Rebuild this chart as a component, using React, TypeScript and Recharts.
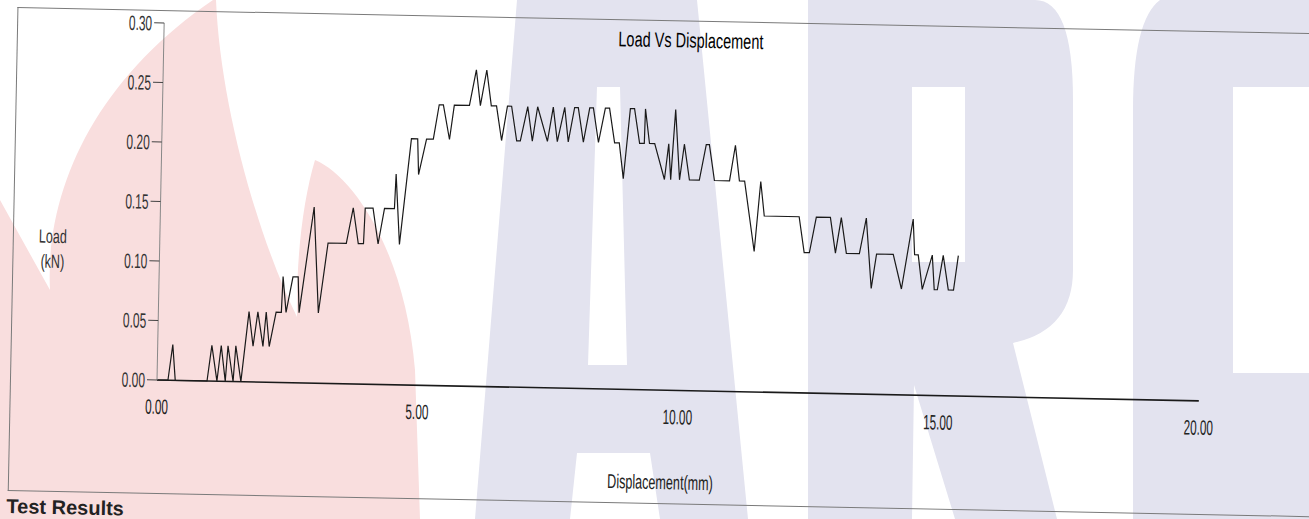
import { LineChart, Line, XAxis, YAxis } from 'recharts'

// displacement (mm) and load (kN)
const disp = [
  0.0, 0.21, 0.29, 0.35, 0.96, 1.04, 1.15, 1.22, 1.31, 1.35, 1.46, 1.5, 1.61,
  1.74, 1.83, 1.91, 2.02, 2.07, 2.14, 2.26, 2.36, 2.38, 2.45, 2.57, 2.67, 2.7,
  2.95, 3.07, 3.23, 3.58, 3.7, 3.81, 3.91, 3.93, 4.08, 4.19, 4.3, 4.49, 4.51,
  4.6, 4.79, 4.91, 4.94, 5.08, 5.21, 5.31, 5.39, 5.52, 5.6, 5.89, 6.01, 6.1,
  6.21, 6.31, 6.41, 6.52, 6.62, 6.7, 6.81, 6.88, 7.01, 7.11, 7.2, 7.4, 7.5,
  7.59, 7.72, 7.8, 7.91, 7.98, 8.09, 8.2, 8.27, 8.38, 8.5, 8.58, 8.69, 8.78,
  8.87, 8.98, 9.06, 9.17, 9.26, 9.27, 9.36, 9.46, 9.66, 9.73, 9.78, 9.85, 9.95,
  10.03, 10.14, 10.33, 10.45, 10.51, 10.62, 10.91, 11.01, 11.1, 11.2, 11.41,
  11.51, 11.59, 12.26, 12.37, 12.47, 12.59, 12.86, 12.97, 13.07, 13.18, 13.43,
  13.55, 13.67, 13.76, 14.08, 14.25, 14.45, 14.49, 14.56, 14.65, 14.83, 14.88,
  14.94, 15.04, 15.15, 15.25, 15.33,
]

const load = [
  0, 0, 0.03, 0, 0, 0.03, 0, 0.03, 0, 0.03, 0, 0.03, 0,
  0.059, 0.03, 0.059, 0.03, 0.059, 0.03, 0.059, 0.059, 0.089, 0.059, 0.089, 0.089, 0.059,
  0.148, 0.059, 0.118, 0.118, 0.148, 0.118, 0.118, 0.148, 0.148, 0.118, 0.148, 0.148, 0.177,
  0.118, 0.207, 0.207, 0.177, 0.207, 0.207, 0.236, 0.236, 0.207, 0.236, 0.236, 0.266, 0.236,
  0.266, 0.236, 0.236, 0.207, 0.236, 0.236, 0.207, 0.207, 0.236, 0.207, 0.236, 0.207, 0.236,
  0.207, 0.236, 0.207, 0.236, 0.236, 0.207, 0.236, 0.236, 0.207, 0.236, 0.236, 0.207, 0.207,
  0.177, 0.236, 0.236, 0.207, 0.207, 0.236, 0.207, 0.207, 0.177, 0.207, 0.177, 0.236, 0.177,
  0.207, 0.177, 0.177, 0.207, 0.207, 0.177, 0.177, 0.207, 0.177, 0.177, 0.118,
  0.177, 0.148, 0.148, 0.118, 0.118, 0.148, 0.148, 0.118, 0.148, 0.118, 0.118,
  0.148, 0.089, 0.118, 0.118, 0.089, 0.148, 0.118, 0.118, 0.089, 0.118, 0.089,
  0.089, 0.118, 0.089, 0.089, 0.118,
]

const xTicks = [0, 5, 10, 15, 20]
const yTicks = [0, 0.05, 0.1, 0.15, 0.2, 0.25, 0.3]

const points = disp.map((d, i) => ({ disp: d, load: load[i] }))

const sans = "'Liberation Sans', Arial, sans-serif"

// printout uses a tall narrow face, so squeeze the regular one
const squeeze = (k: number) =>
  ({
    fontFamily: sans,
    transform: `scaleX(${k})`,
    transformOrigin: 'center',
  }) as const

function XTick({ x, y, payload }: any) {
  return (
    <g transform={`translate(${x},${y})`}>
      <text transform="scale(0.56,1)" textAnchor="middle" dy="0.71em" fontSize={21} fontFamily={sans} fill="#222">
        {Number(payload.value).toFixed(2)}
      </text>
    </g>
  )
}

function YTick({ x, y, payload }: any) {
  return (
    <g transform={`translate(${x},${y})`}>
      <text transform="scale(0.57,1)" textAnchor="end" dy="0.36em" fontSize={21} fontFamily={sans} fill="#333">
        {Number(payload.value).toFixed(2)}
      </text>
    </g>
  )
}

// the "ARC" watermark printed over the scan
function Watermark() {
  return (
    <svg width={1309} height={519} style={{ position: 'absolute', left: 0, top: 0 }}>
      <path
        d="M0,519 L0,200 L50,290 C45,190 95,80 213,0 L216,0 C220,100 255,230 297,317 C296,260 303,200 315,160 C352,175 405,250 415,370 L420,519 Z"
        fill="#f9dede"
      />
      <path
        fillRule="evenodd"
        fill="#e3e3ef"
        d="M517,0 L697,0 L748,519 L660,519 L650,453 L577,453 L570,519 L475,519 Z M597,87 L620,87 L627,365 L588,365 Z"
      />
      <path
        fillRule="evenodd"
        fill="#e3e3ef"
        d="M808,0 L1035,0 Q1073,0 1073,100 L1073,270 Q1073,330 1013,343 L1057,519 L955,519 L914,385 L912,519 L808,519 Z M912,87 L965,87 L965,262 L912,262 Z"
      />
      <path
        fillRule="evenodd"
        fill="#e3e3ef"
        d="M1160,0 L1309,0 L1309,519 L1133,519 L1133,110 Q1133,20 1160,0 Z M1233,87 L1309,87 L1309,373 L1233,373 Z"
      />
    </svg>
  )
}

export default function App() {
  return (
    <div
      style={{
        position: 'fixed',
        left: 0,
        top: 0,
        width: 1309,
        height: 519,
        background: '#fff',
        overflow: 'hidden',
      }}
    >
      <Watermark />

      {/* the printout sits slightly skewed on the scanner */}
      <div
        style={{
          position: 'absolute',
          left: 0,
          top: 0,
          width: 1309,
          height: 519,
          transform: 'rotate(1.15deg)',
          transformOrigin: '157px 380px',
        }}
      >
        <div
          style={{
            position: 'absolute',
            left: 10,
            top: 10,
            width: 1340,
            height: 482,
            border: '1px solid #7a7a7a',
            borderRight: 'none',
          }}
        />

        <div
          style={{
            ...squeeze(0.69),
            position: 'absolute',
            left: 534,
            top: 18,
            width: 300,
            textAlign: 'center',
            fontSize: 21,
            lineHeight: '24px',
            color: '#000',
          }}
        >
          Load Vs Displacement
        </div>

        <div
          style={{
            ...squeeze(0.66),
            position: 'absolute',
            left: 20,
            top: 226,
            width: 60,
            textAlign: 'center',
            fontSize: 19,
            lineHeight: '25px',
            color: '#333',
          }}
        >
          Load
          <br />
          (kN)
        </div>

        <div
          style={{
            ...squeeze(0.63),
            position: 'absolute',
            left: 542,
            top: 460,
            width: 240,
            textAlign: 'center',
            fontSize: 20,
            lineHeight: '24px',
            color: '#222',
          }}
        >
          Displacement(mm)
        </div>

        <div
          style={{
            position: 'absolute',
            left: 9,
            top: 499,
            fontFamily: sans,
            fontWeight: 'bold',
            fontSize: 20,
            lineHeight: '20px',
            color: '#222',
          }}
        >
          Test Results
        </div>

        <div style={{ position: 'absolute', left: 0, top: 0 }}>
          <LineChart
            width={1309}
            height={519}
            data={points}
            margin={{ top: 23, right: 110, bottom: 109, left: 97 }}
          >
            <XAxis
              type="number"
              dataKey="disp"
              domain={[0, 20]}
              ticks={xTicks}
              height={30}
              tickLine={false}
              tickMargin={13}
              axisLine={{ stroke: '#1a1a1a', strokeWidth: 1.6 }}
              tick={<XTick />}
            />
            <YAxis
              type="number"
              dataKey="load"
              domain={[0, 0.3]}
              ticks={yTicks}
              width={60}
              tickSize={10}
              tickMargin={2}
              axisLine={{ stroke: '#888' }}
              tickLine={{ stroke: '#444' }}
              tick={<YTick />}
            />
            <Line
              type="linear"
              dataKey="load"
              stroke="#1a1a1a"
              strokeWidth={1.2}
              dot={false}
              isAnimationActive={false}
            />
          </LineChart>
        </div>
      </div>
    </div>
  )
}
